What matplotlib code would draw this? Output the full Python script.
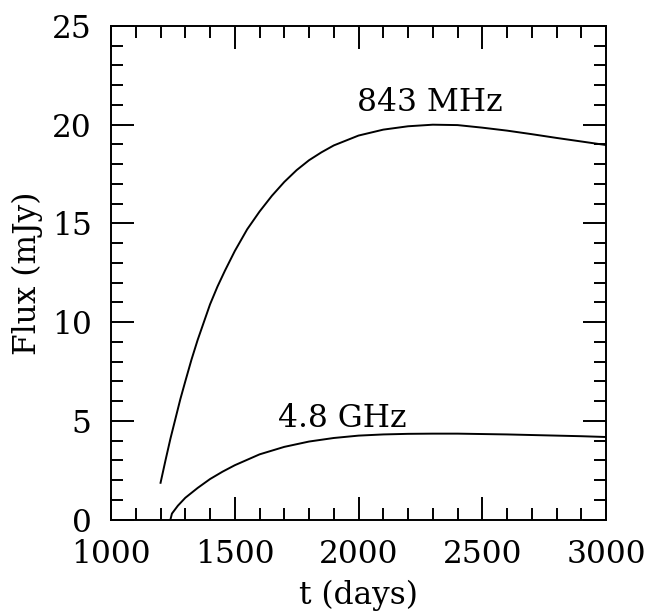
import matplotlib
matplotlib.use('Agg')
import matplotlib.pyplot as plt
from matplotlib.ticker import MultipleLocator

# Light curves
t_843 = [1200, 1220, 1240, 1260, 1280, 1300, 1325, 1350, 1375, 1400, 1430, 1460,
         1500, 1550, 1600, 1650, 1700, 1750, 1800, 1850, 1900, 1950, 2000, 2100,
         2200, 2300, 2400, 2500, 2600, 2700, 2800, 2900, 3000]
flux_843 = [1.86, 3.0, 4.1, 5.1, 6.1, 7.0, 8.1, 9.1, 10.0, 10.9, 11.8, 12.6,
            13.6, 14.7, 15.6, 16.4, 17.1, 17.7, 18.2, 18.6, 18.95, 19.2, 19.45, 19.75,
            19.92, 20.0, 19.98, 19.85, 19.7, 19.52, 19.33, 19.15, 18.97]

t_48 = [1240, 1246, 1270, 1300, 1350, 1400, 1450, 1500, 1600, 1700, 1800, 1900,
        2000, 2100, 2200, 2300, 2400, 2500, 2600, 2700, 2800, 2900, 3000]
flux_48 = [0.0, 0.3, 0.7, 1.1, 1.6, 2.05, 2.42, 2.75, 3.3, 3.68, 3.95, 4.13,
           4.25, 4.31, 4.34, 4.35, 4.35, 4.33, 4.31, 4.28, 4.25, 4.22, 4.18]

plt.rcParams['font.family'] = 'DejaVu Serif'
plt.rcParams['font.size'] = 22.5

fig = plt.figure(figsize=(6.65, 6.13), dpi=100)
ax = fig.add_axes([0.167, 0.1525, 0.7443, 0.8051])

ax.plot(t_843, flux_843, color='black', lw=1.4)
ax.plot(t_48, flux_48, color='black', lw=1.4)

ax.text(2290, 21.1, '843 MHz', ha='center', va='center')
ax.text(1935, 5.1, '4.8 GHz', ha='center', va='center')

ax.set_xlim(1000, 3000)
ax.set_ylim(0, 25)
ax.xaxis.set_major_locator(MultipleLocator(500))
ax.xaxis.set_minor_locator(MultipleLocator(100))
ax.yaxis.set_major_locator(MultipleLocator(5))
ax.yaxis.set_minor_locator(MultipleLocator(1))
ax.tick_params(which='both', direction='in', top=True, right=True, width=1.4)
ax.tick_params(which='major', length=16.5, pad=14)
ax.tick_params(which='minor', length=8.6)
for s in ax.spines.values():
    s.set_linewidth(1.4)

ax.set_xlabel('t (days)', labelpad=7)
ax.set_ylabel('Flux (mJy)', labelpad=6)

fig.savefig('out.png', dpi=100)
